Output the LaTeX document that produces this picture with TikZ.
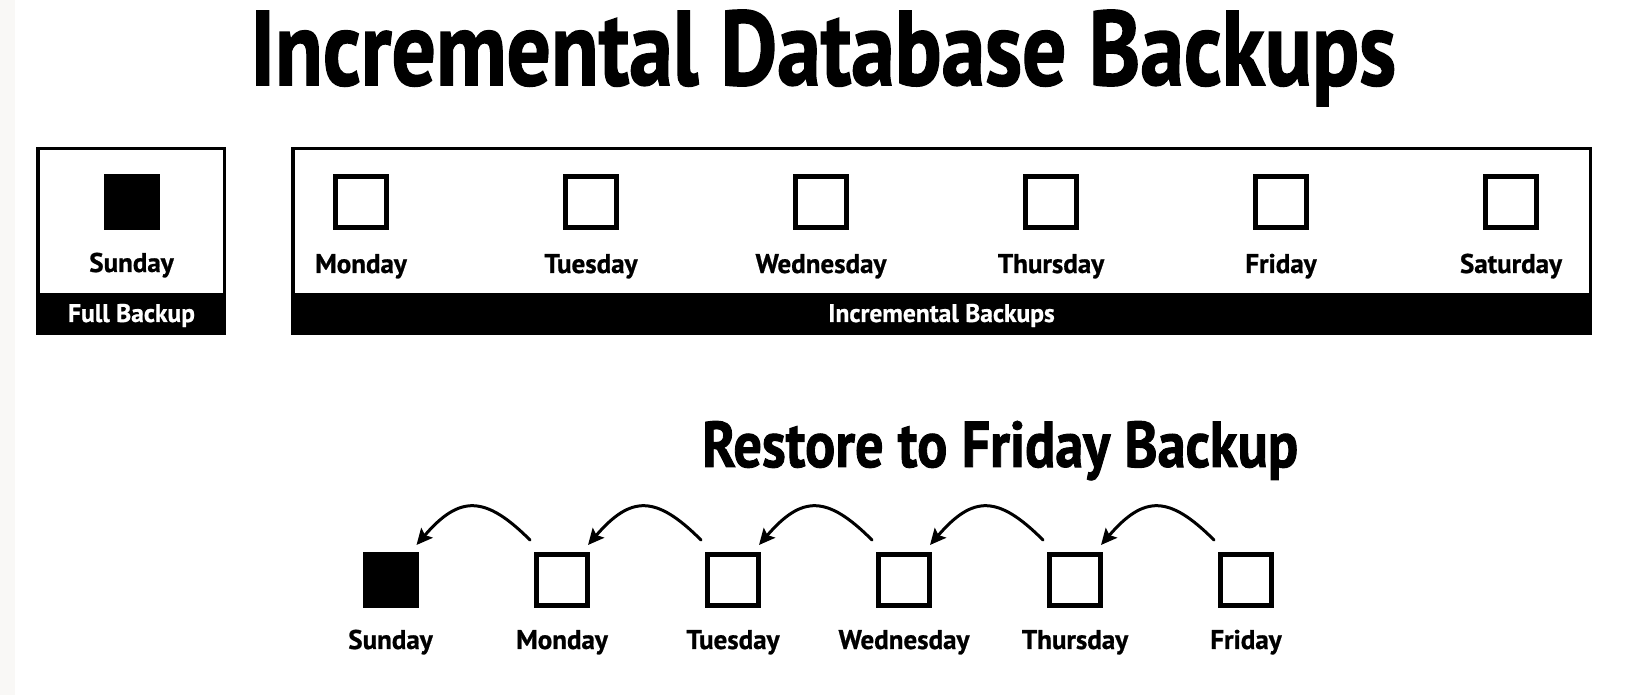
\documentclass[tikz,border=0pt]{standalone}
\usepackage{fontspec}
\usepackage{graphicx}
\setmainfont{PT Sans}
\newfontfamily\lblfont[FakeStretch=1.0,BoldFeatures={FakeBold=0.8}]{PT Sans}
\newfontfamily\ttlfont[BoldFeatures={FakeBold=1.5}]{PT Sans}
\usetikzlibrary{arrows.meta}
\definecolor{strip}{RGB}{249,248,246}
\tikzset{
  sq/.style={draw=black, line width=5pt, minimum size=51pt, inner sep=0pt, fill=white},
  sqfull/.style={sq, fill=black},
  lbl/.style={font=\lblfont\bfseries\fontsize{27}{27}\selectfont, anchor=base, inner sep=0pt},
  bandlbl/.style={font=\lblfont\bfseries\fontsize{25.5}{25.5}\selectfont, text=white, anchor=base, inner sep=0pt},
  frame/.style={draw=black, line width=3.5pt},
  band/.style={fill=black},
  back/.style={-{Stealth[length=16pt,width=15pt,inset=3pt]}, line width=3pt, line cap=round},
}
\begin{document}
\begin{tikzpicture}[x=1pt,y=1pt]
\useasboundingbox (0,0) rectangle (1628,695);
\fill[white] (0,0) rectangle (1628,695);
\fill[strip] (0,0) rectangle (15,695);

% title
\node[anchor=base west, inner sep=0pt] (title) at (250,610)
  {\resizebox{1145pt}{75pt}{\ttlfont\bfseries Incremental Database Backups}};

% full backup box
\fill[band] (36,360) rectangle (226,402);
\draw[frame] (37.75,361.75) rectangle (224.25,546.25);
\node[sqfull] (tsun) at (131.5,492.5) {};
\node[lbl] (ltsun) at (131.5,423) {Sunday};
\node[bandlbl] (lfull) at (131.5,373) {Full Backup};

% incremental box
\fill[band] (291,360) rectangle (1592,402);
\draw[frame] (292.75,361.75) rectangle (1590.25,546.25);
\node[sq] (tmon) at (361,492.5) {};
\node[sq] (ttue) at (591,492.5) {};
\node[sq] (twed) at (821,492.5) {};
\node[sq] (tthu) at (1051,492.5) {};
\node[sq] (tfri) at (1281,492.5) {};
\node[sq] (tsat) at (1511,492.5) {};
\node[lbl] (ltmon) at (361,422) {Monday};
\node[lbl] (lttue) at (591,422) {Tuesday};
\node[lbl] (ltwed) at (821,422) {Wednesday};
\node[lbl] (ltthu) at (1051,422) {Thursday};
\node[lbl] (ltfri) at (1281,422) {Friday};
\node[lbl] (ltsat) at (1511,422) {Saturday};
\node[bandlbl] (linc) at (941.5,373) {Incremental Backups};

% restore
\node[anchor=base west, inner sep=0pt] (sub) at (702,228)
  {\resizebox{596pt}{46pt}{\ttlfont\bfseries Restore to Friday Backup}};

\node[sqfull] (b1) at (390.5,115) {};
\node[sq] (b2) at (562,115) {};
\node[sq] (b3) at (733,115) {};
\node[sq] (b4) at (904,115) {};
\node[sq] (b5) at (1075,115) {};
\node[sq] (b6) at (1246,115) {};
\node[lbl] (lb1) at (390.5,46) {Sunday};
\node[lbl] (lb2) at (562,46) {Monday};
\node[lbl] (lb3) at (733,46) {Tuesday};
\node[lbl] (lb4) at (904,46) {Wednesday};
\node[lbl] (lb5) at (1075,46) {Thursday};
\node[lbl] (lb6) at (1246,46) {Friday};

\foreach \a/\b in {b2/b1,b3/b2,b4/b3,b5/b4,b6/b5}{
  \draw[back] ([shift={(-4,12)}]\a.north west) .. controls +(-45,45) and +(43,50) .. ([shift={(-2,7)}]\b.north east);
}
\end{tikzpicture}
\end{document}
